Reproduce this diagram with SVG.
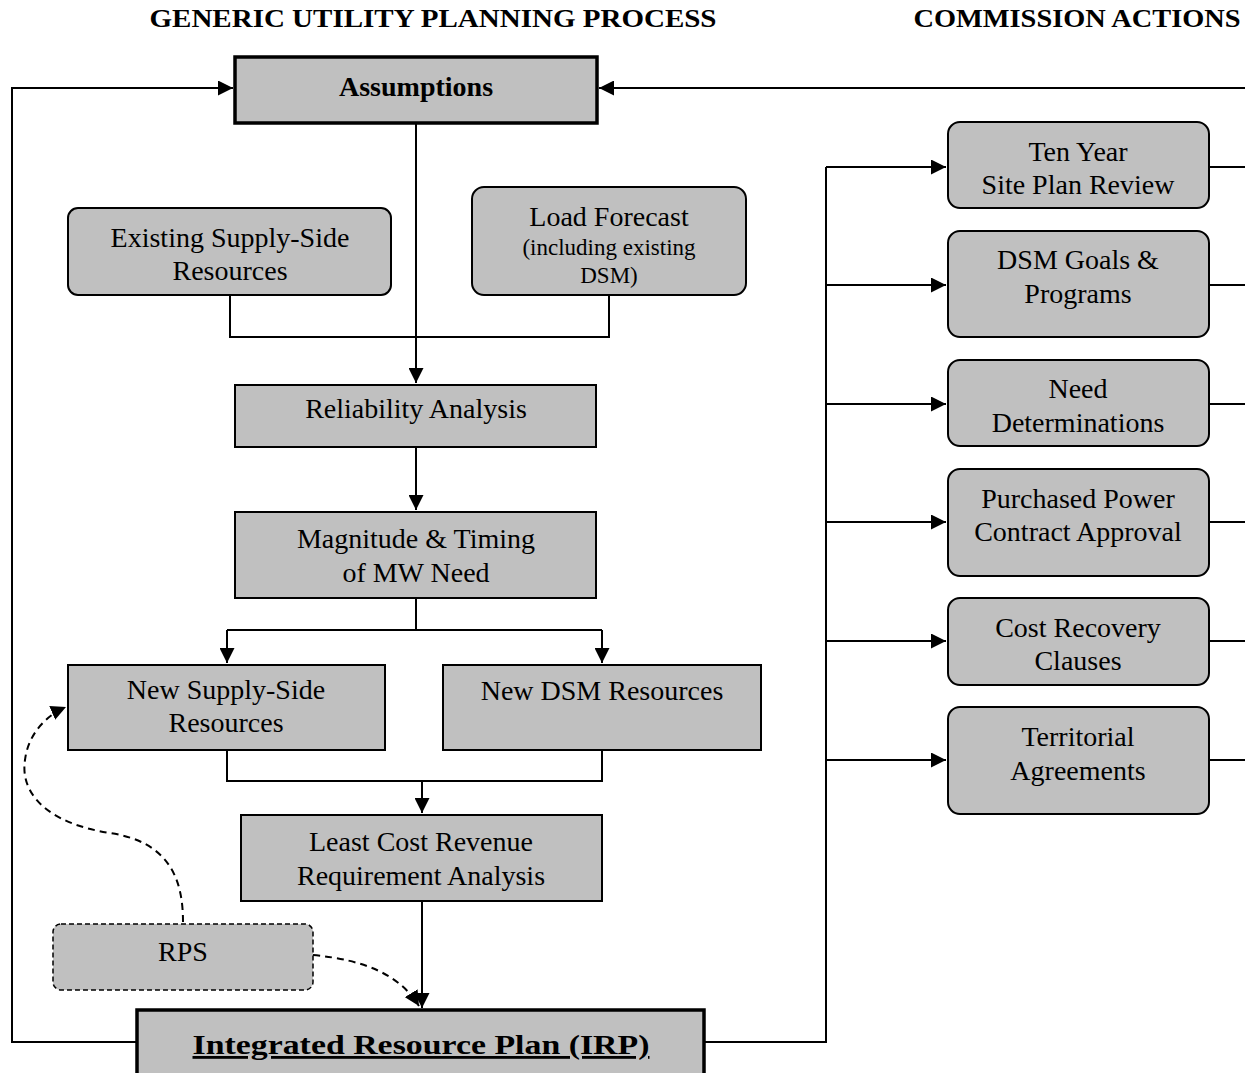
<svg xmlns="http://www.w3.org/2000/svg" width="1245" height="1073" viewBox="0 0 1245 1073">
<defs>
<style>
.box{fill:#c0c0c0;stroke:#000;stroke-width:2}
.thick{fill:#c0c0c0;stroke:#000;stroke-width:3.5}
.dbox{fill:#c0c0c0;stroke:#000;stroke-width:1.5;stroke-dasharray:5,3}
.t{font-family:"Liberation Serif",serif;font-size:28px;fill:#000;text-anchor:middle}
.s{font-size:23px}
.b{font-weight:bold}
.h{font-family:"Liberation Serif",serif;font-size:25px;font-weight:bold;fill:#000;text-anchor:middle}
.c{fill:none;stroke:#000;stroke-width:2}
.cd{fill:none;stroke:#000;stroke-width:2;stroke-dasharray:7,5}
</style>
<marker id="ab" viewBox="0 0 10 10" refX="10" refY="5" markerWidth="15" markerHeight="15" markerUnits="userSpaceOnUse" orient="auto"><path d="M0,0L10,5L0,10z" fill="#000"/></marker>
</defs>
<text class="h" x="433" y="27" textLength="567" lengthAdjust="spacingAndGlyphs">GENERIC UTILITY PLANNING PROCESS</text>
<text class="h" x="1077" y="27" textLength="327" lengthAdjust="spacingAndGlyphs">COMMISSION ACTIONS</text>

<g id="connectors">
<path class="c" d="M137,1042H12V88H233" marker-end="url(#ab)"/>
<path class="c" d="M1245,88H599" stroke-width="3" marker-end="url(#ab)"/>
<path class="c" d="M416,123V383" marker-end="url(#ab)"/>
<path class="c" d="M230,295V337H609V295"/>
<path class="c" d="M416,447V510" marker-end="url(#ab)"/>
<path class="c" d="M416,598V630H227M416,630H602"/>
<path class="c" d="M227,630V663" marker-end="url(#ab)"/>
<path class="c" d="M602,630V663" marker-end="url(#ab)"/>
<path class="c" d="M227,750V781H602V750"/>
<path class="c" d="M422,781V813" marker-end="url(#ab)"/>
<path class="c" d="M422,901V1008" marker-end="url(#ab)"/>
<path class="c" d="M704,1042H826V167"/>
<path class="c" d="M826,167H946" marker-end="url(#ab)"/>
<path class="c" d="M826,285H946" marker-end="url(#ab)"/>
<path class="c" d="M826,404H946" marker-end="url(#ab)"/>
<path class="c" d="M826,522H946" marker-end="url(#ab)"/>
<path class="c" d="M826,641H946" marker-end="url(#ab)"/>
<path class="c" d="M826,760H946" marker-end="url(#ab)"/>
<path class="c" d="M1209,167H1245M1209,285H1245M1209,404H1245M1209,522H1245M1209,641H1245M1209,760H1245"/>
<path class="cd" d="M183,922C183,880 170,842 110,833C45,823 20,792 25,760C28,735 45,716 66,707" marker-end="url(#ab)"/>
<path class="cd" d="M313,955C365,960 400,975 419,1006" marker-end="url(#ab)"/>
</g>

<g id="assumptions"><rect class="thick" x="235" y="57" width="362" height="66"/><text class="t b" x="416" y="96">Assumptions</text></g>
<g id="existing"><rect class="box" x="68" y="208" width="323" height="87" rx="10"/><text class="t" x="230" y="247">Existing Supply-Side</text><text class="t" x="230" y="280">Resources</text></g>
<g id="load"><rect class="box" x="472" y="187" width="274" height="108" rx="12"/><text class="t" x="609" y="226">Load Forecast</text><text class="t s" x="609" y="255">(including existing</text><text class="t s" x="609" y="283">DSM)</text></g>
<g id="reliability"><rect class="box" x="235" y="385" width="361" height="62"/><text class="t" x="416" y="418">Reliability Analysis</text></g>
<g id="magnitude"><rect class="box" x="235" y="512" width="361" height="86"/><text class="t" x="416" y="548">Magnitude &amp; Timing</text><text class="t" x="416" y="582">of MW Need</text></g>
<g id="newsupply"><rect class="box" x="68" y="665" width="317" height="85"/><text class="t" x="226" y="699">New Supply-Side</text><text class="t" x="226" y="732">Resources</text></g>
<g id="newdsm"><rect class="box" x="443" y="665" width="318" height="85"/><text class="t" x="602" y="700">New DSM Resources</text></g>
<g id="leastcost"><rect class="box" x="241" y="815" width="361" height="86"/><text class="t" x="421" y="851">Least Cost Revenue</text><text class="t" x="421" y="885">Requirement Analysis</text></g>
<g id="rps"><rect class="dbox" x="53" y="924" width="260" height="66" rx="8"/><text class="t" x="183" y="961">RPS</text></g>
<g id="irp"><rect class="thick" x="137" y="1010" width="567" height="72"/><text class="t b" x="421" y="1054" font-size="34" text-decoration="underline" textLength="457" lengthAdjust="spacingAndGlyphs">Integrated Resource Plan (IRP)</text></g>

<g id="tenyear"><rect class="box" x="948" y="122" width="261" height="86" rx="12"/><text class="t" x="1078" y="161">Ten Year</text><text class="t" x="1078" y="194">Site Plan Review</text></g>
<g id="dsmgoals"><rect class="box" x="948" y="231" width="261" height="106" rx="12"/><text class="t" x="1078" y="269">DSM Goals &amp;</text><text class="t" x="1078" y="303">Programs</text></g>
<g id="need"><rect class="box" x="948" y="360" width="261" height="86" rx="12"/><text class="t" x="1078" y="398">Need</text><text class="t" x="1078" y="432">Determinations</text></g>
<g id="purchased"><rect class="box" x="948" y="469" width="261" height="107" rx="12"/><text class="t" x="1078" y="508">Purchased Power</text><text class="t" x="1078" y="541">Contract Approval</text></g>
<g id="costrecovery"><rect class="box" x="948" y="598" width="261" height="87" rx="12"/><text class="t" x="1078" y="637">Cost Recovery</text><text class="t" x="1078" y="670">Clauses</text></g>
<g id="territorial"><rect class="box" x="948" y="707" width="261" height="107" rx="12"/><text class="t" x="1078" y="746">Territorial</text><text class="t" x="1078" y="780">Agreements</text></g>
</svg>
